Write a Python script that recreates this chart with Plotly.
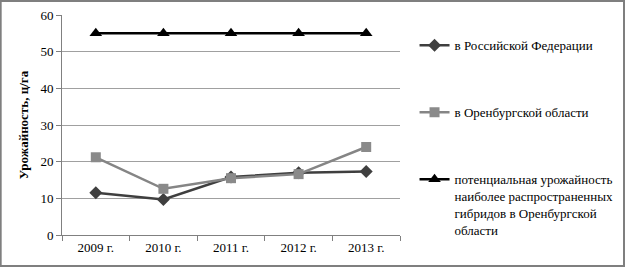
import plotly.graph_objects as go

years = ["2009 г.", "2010 г.", "2011 г.", "2012 г.", "2013 г."]
rf = [11.5, 9.7, 15.8, 17.0, 17.3]
orb = [21.2, 12.6, 15.5, 16.6, 24.0]
potential = [55, 55, 55, 55, 55]

names = ["в Российской Федерации", "в Оренбургской области",
         "потенциальная урожайность<br>наиболее распространенных<br>гибридов в Оренбургской<br>области"]

font = "Liberation Serif"
fig = go.Figure()
fig.add_trace(go.Scatter(x=years, y=rf, name=names[0], mode="lines+markers", legendgroup="a",
                         line=dict(color="#3f3f3f", width=2.5),
                         marker=dict(symbol="diamond", size=10, color="#3f3f3f")))
fig.add_trace(go.Scatter(x=years, y=orb, name=names[1], mode="lines+markers", legendgroup="b",
                         line=dict(color="#858585", width=2.5),
                         marker=dict(symbol="square", size=10, color="#8a8a8a")))
fig.add_trace(go.Scatter(x=years, y=potential, name=names[2], mode="lines+markers", legendgroup="c",
                         line=dict(color="#000000", width=2.5),
                         marker=dict(symbol="triangle-up", size=11, color="#000000")))

fig.update_layout(
    width=625, height=267,
    margin=dict(l=62, r=225, t=15, b=32, autoexpand=False),
    paper_bgcolor="white", plot_bgcolor="white",
    font=dict(family=font, size=13, color="#000"),
    showlegend=True,
    legend=dict(x=1.043, xanchor="left", y=0.93, yanchor="top", tracegroupgap=47,
                valign="top", font=dict(family=font, size=13), bgcolor="rgba(0,0,0,0)",
                itemwidth=30),
    xaxis=dict(type="category", tickson="boundaries", ticks="outside", ticklen=5,
               tickcolor="#808080", showline=True, linecolor="#808080", linewidth=1,
               showgrid=False, range=[-0.5, 4.5], tickfont=dict(family=font, size=13)),
    yaxis=dict(range=[0, 60], dtick=10, ticks="outside", ticklen=5, tickcolor="#808080",
               showline=True, linecolor="#808080", linewidth=1, showgrid=True,
               gridcolor="#a0a0a0", gridwidth=1, zeroline=False,
               title=dict(text="<b>Урожайность, ц/га</b>", standoff=8, font=dict(family=font, size=13)),
               tickfont=dict(family=font, size=13)),
    shapes=[dict(type="rect", xref="paper", yref="paper",
                 x0=-62/338 + 0.002, x1=1 + 224/338, y0=-32/220 + 0.004, y1=1 + 14/220,
                 line=dict(color="#7f7f7f", width=2))],
)
fig.write_html("out.html")
